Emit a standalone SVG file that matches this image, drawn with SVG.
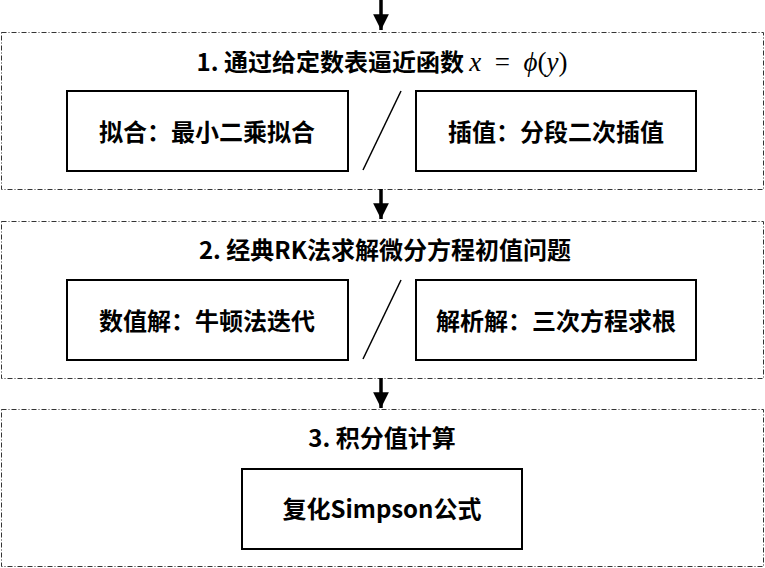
<svg xmlns="http://www.w3.org/2000/svg" width="765" height="568" viewBox="0 0 765 568">
<style>
.grp{fill:none;stroke:#333;stroke-width:1;stroke-dasharray:5,2,1,2}
.node{fill:#fff;stroke:#000;stroke-width:2}
.t{font-family:"Noto Sans CJK SC","Microsoft YaHei",sans-serif;font-weight:bold;font-size:24px;fill:#000;text-anchor:middle}
.m{font-family:"Liberation Serif",serif;font-style:italic;font-weight:normal;font-size:27px}
.mn{font-family:"Liberation Serif",serif;font-style:normal;font-weight:normal;font-size:27px}
.ln{stroke:#000;stroke-width:3.5;fill:none}
.sl{stroke:#000;stroke-width:1.5}
</style>
<defs>
<marker id="ah" viewBox="0 0 10 10" refX="10" refY="5" markerWidth="5" markerHeight="4.5" markerUnits="strokeWidth" orient="auto">
<path d="M0,0 L10,5 L0,10 Z" fill="#000"/>
</marker>
</defs>
<g id="group1">
<rect class="grp" x="1.5" y="32.5" width="762" height="157"/>
<text class="t" x="382" y="71">1. 通过给定数表逼近函数 <tspan class="m">x</tspan><tspan class="mn" xml:space="preserve">  =  </tspan><tspan class="m">ϕ</tspan><tspan class="mn">(</tspan><tspan class="m">y</tspan><tspan class="mn">)</tspan></text>
</g>
<g id="group2">
<rect class="grp" x="1.5" y="221.5" width="762" height="157"/>
<text class="t" x="385" y="259">2. 经典RK法求解微分方程初值问题</text>
</g>
<g id="group3">
<rect class="grp" x="1.5" y="409.5" width="762" height="157"/>
<text class="t" x="382" y="447">3. 积分值计算</text>
</g>
<g id="node-fit">
<rect class="node" x="67" y="91" width="281" height="80"/>
<text class="t" x="207" y="141">拟合：最小二乘拟合</text>
</g>
<g id="node-interp">
<rect class="node" x="416" y="91" width="280" height="80"/>
<text class="t" x="556" y="141">插值：分段二次插值</text>
</g>
<g id="node-newton">
<rect class="node" x="67" y="280" width="281" height="80"/>
<text class="t" x="207" y="330">数值解：牛顿法迭代</text>
</g>
<g id="node-cubic">
<rect class="node" x="416" y="280" width="280" height="80"/>
<text class="t" x="556" y="330">解析解：三次方程求根</text>
</g>
<g id="node-simpson">
<rect class="node" x="242" y="469" width="280" height="80"/>
<text class="t" x="382" y="518">复化Simpson公式</text>
</g>
<g id="connectors">
<line class="ln" x1="381" y1="0" x2="381" y2="30" marker-end="url(#ah)"/>
<line class="ln" x1="381" y1="189" x2="381" y2="219" marker-end="url(#ah)"/>
<line class="ln" x1="381" y1="378" x2="381" y2="408" marker-end="url(#ah)"/>
<line class="sl" x1="401" y1="91" x2="363" y2="170"/>
<line class="sl" x1="401" y1="280" x2="363" y2="359"/>
</g>
</svg>
